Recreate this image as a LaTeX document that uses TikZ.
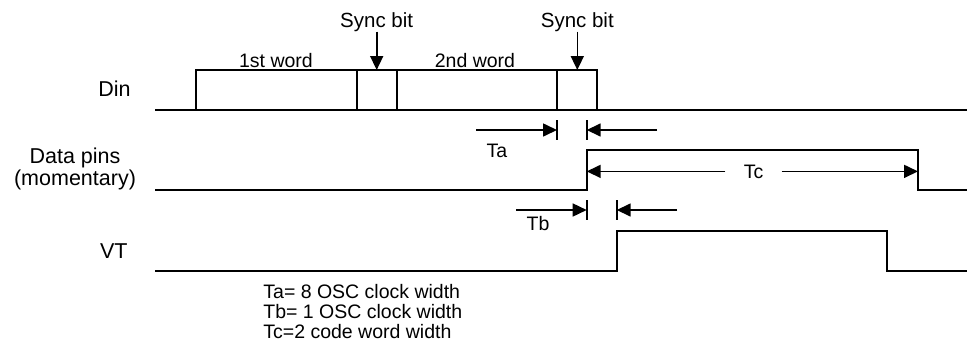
\documentclass[tikz,border=0pt]{standalone}
\usepackage{fontspec}
\setmainfont{Liberation Sans}
\usetikzlibrary{arrows.meta, positioning}

\tikzset{
  wave/.style={line width=0.8pt, line join=miter},
  tickmark/.style={line width=0.8pt},
  dimarrow/.style={line width=0.8pt, -{Triangle[length=7pt, width=6.5pt]}},
  lbl/.style={inner sep=0pt, font=\fontsize{9.75}{10.5}\selectfont},
  signame/.style={inner sep=0pt, font=\fontsize{10.75}{11}\selectfont},
}

\begin{document}
\begin{tikzpicture}[x=0.5pt, y=-0.5pt]
  \useasboundingbox (0,0) rectangle (967,348);

  % signal names
  \node[signame, anchor=base east] (din) at (131,96.7) {Din};
  \node[signame, anchor=base, align=center] (data) at (75,185) {Data pins\\(momentary)};
  \node[signame, anchor=base east] (vt) at (128,258) {VT};

  % edges of the waveforms
  \coordinate (dinrise) at (195.7,70);
  \coordinate (sync1a) at (356.7,70);
  \coordinate (sync1b) at (396.7,70);
  \coordinate (sync2a) at (557,70);
  \coordinate (dinfall) at (596.7,110);
  \coordinate (dprise) at (586.7,150);
  \coordinate (dpfall) at (918,150);
  \coordinate (vtrise) at (616.7,231);
  \coordinate (vtfall) at (887,231);

  % Din
  \draw[wave] (155,110) -- (967,110);
  \draw[wave] (dinrise) rectangle (dinfall);
  \foreach \c in {sync1a, sync1b, sync2a}
    \draw[wave] (\c) -- ++(0,40);
  \node[lbl, anchor=base] (word1) at (276,67) {1st word};
  \node[lbl, anchor=base] (word2) at (475,67) {2nd word};
  \node[lbl, anchor=base, font=\fontsize{10.25}{11}\selectfont] (sync1) at (376.7,27) {Sync bit};
  \node[lbl, anchor=base, font=\fontsize{10.25}{11}\selectfont] (sync2) at (577.3,27) {Sync bit};
  \draw[dimarrow] (sync1.south) -- (sync1.south |- dinrise);
  \draw[dimarrow] (sync2.south) -- (sync2.south |- dinrise);

  % Data pins
  \draw[wave] (155,190) -| (dprise) -- (dpfall) |- (967,190);

  % VT
  \draw[wave] (155,270.7) -| (vtrise) -- (vtfall) |- (967,270.7);

  % Ta
  \coordinate (tastart) at (476,130);
  \coordinate (taend) at (657,130);
  \draw[tickmark] (sync2a |- 0,120) -- (sync2a |- 0,140);
  \draw[tickmark] (dprise |- 0,120) -- (dprise |- 0,140);
  \draw[dimarrow] (tastart) -- (tastart -| sync2a);
  \draw[dimarrow] (taend) -- (taend -| dprise);
  \node[lbl, anchor=base] (ta) at (497,157) {Ta};

  % Tc
  \node[lbl, anchor=base, inner xsep=9pt] (tc) at (753.5,178) {Tc};
  \draw[dimarrow] (tc.west) -- (tc.west -| dprise);
  \draw[dimarrow] (tc.east) -- (tc.east -| dpfall);

  % Tb
  \coordinate (tbstart) at (516,210);
  \coordinate (tbend) at (677,210);
  \draw[tickmark] (dprise |- 0,200) -- (dprise |- 0,220);
  \draw[tickmark] (vtrise |- 0,200) -- (vtrise |- 0,220);
  \draw[dimarrow] (tbstart) -- (tbstart -| dprise);
  \draw[dimarrow] (tbend) -- (tbend -| vtrise);
  \node[lbl, anchor=base] (tb) at (538,230) {Tb};

  % notes
  \node[lbl, anchor=north west, align=left, font=\fontsize{9.75}{10}\selectfont]
    (notes) at (263,284) {Ta= 8 OSC clock width\\Tb= 1 OSC clock width\\Tc=2 code word width};
\end{tikzpicture}
\end{document}
